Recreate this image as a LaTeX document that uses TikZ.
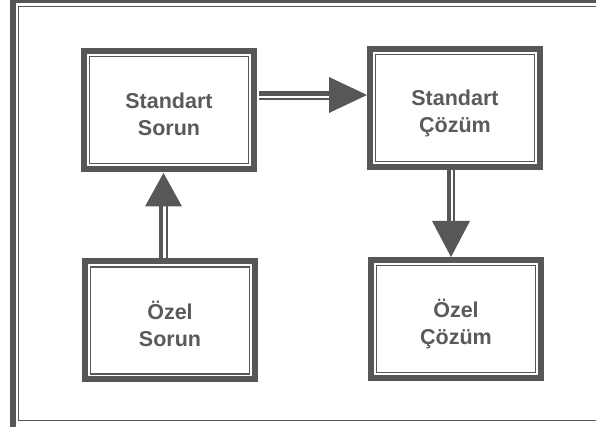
\documentclass[tikz,border=0pt]{standalone}
\usepackage{fontspec}
\setmainfont{Liberation Sans}
\usetikzlibrary{calc}
\definecolor{ink}{HTML}{575757}
\definecolor{txt}{HTML}{5A5A5A}
\tikzset{
  box/.style={draw=ink, line width=6pt, minimum width=170pt, minimum height=118pt,
    inner sep=0pt},
  boxtext/.style={align=center, text=txt, inner sep=0pt,
    font=\fontsize{21.5}{27}\selectfont\bfseries},
  inner line/.style={draw=ink, line width=1.5pt},
  shaft/.style={draw=ink, line width=4.8pt},
  rail/.style={draw=ink, line width=1.6pt},
  head/.style={fill=ink},
  frame thin/.style={draw=ink, line width=1.5pt}
}
\begin{document}
\begin{tikzpicture}[x=1pt,y=1pt]
\useasboundingbox (0,0) rectangle (596,427);
% page frame: heavy outer rule and thin inner rule
\fill[ink] (10,0) rectangle (16,427);
\fill[ink] (10,423.5) rectangle (596,427);
\draw[frame thin] (596,420.5) -- (18.5,420.5) -- (18.5,6.5) -- (596,6.5);

% the four boxes
\node[box] (ss) at (169,317) {};
\node[box] (sc) at (455,319) {};
\node[box] (os) at (170,106.5) {};
\node[box] (oc) at (456,108) {};
\foreach \n in {ss,sc,os,oc}
  \draw[inner line] ([shift={(8.6,8.6)}]\n.south west) rectangle ([shift={(-8.6,-8.6)}]\n.north east);

% box captions, set a little below the box centres
\node[boxtext] (ss-t) at ([yshift=-4]ss.center) {Standart\\Sorun};
\node[boxtext] (sc-t) at ([yshift=-5]sc.center) {Standart\\Çözüm};
\node[boxtext] (os-t) at ([yshift=-3]os.center) {Özel\\Sorun};
\node[boxtext] (oc-t) at ([yshift=-5]oc.center) {Özel\\Çözüm};

% Standart Sorun -> Standart Cozum
\coordinate (h1) at ([yshift=15]ss.east);
\coordinate (h2) at (sc.west |- h1);
\draw[shaft] ([shift={(2,1.5)}]h1) -- ([shift={(-37,1.5)}]h2);
\draw[rail] ([shift={(2,-4)}]h1) -- ([shift={(-37,-4)}]h2);
\fill[head] (h2) -- ++(-38,18) -- ++(0,-36) -- cycle;

% Ozel Sorun -> Standart Sorun
\coordinate (v1) at ([xshift=-6.5]os.north);
\coordinate (v2) at (v1 |- ss.south);
\draw[shaft] ([xshift=-2.5]v1) -- ([shift={(-2.5,-33)}]v2);
\draw[rail] ([xshift=3.5]v1) -- ([shift={(3.5,-33)}]v2);
\fill[head] ([yshift=-1]v2) -- ++(-18.5,-33.5) -- ++(37,0) -- cycle;

% Standart Cozum -> Ozel Cozum
\coordinate (d1) at ([xshift=-4]sc.south);
\coordinate (d2) at (d1 |- oc.north);
\draw[shaft] ([xshift=-2]d1) -- ([shift={(-2,35)}]d2);
\draw[rail] ([xshift=3]d1) -- ([shift={(3,35)}]d2);
\fill[head] (d2) -- ++(-19,36) -- ++(38,0) -- cycle;
\end{tikzpicture}
\end{document}
